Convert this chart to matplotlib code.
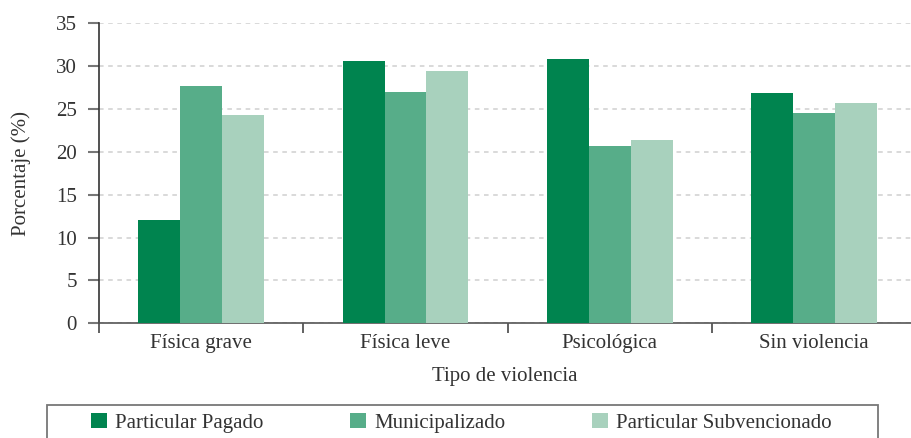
import numpy as np
from matplotlib import pyplot as plt
from matplotlib.patches import Patch, Rectangle

categories = ["Física grave", "Física leve", "Psicológica", "Sin violencia"]
series = ["Particular Pagado", "Municipalizado", "Particular Subvencionado"]
pagado = [12.0, 30.6, 30.8, 26.9]
municipal = [27.7, 27.0, 20.7, 24.5]
subvencionado = [24.3, 29.4, 21.4, 25.7]
yticks = [0, 5, 10, 15, 20, 25, 30, 35]

colors = ["#00844f", "#57ad89", "#a8d1bd"]
text_color = "#333333"

plt.rcParams["font.family"] = ["Liberation Serif", "DejaVu Serif"]
plt.rcParams["font.size"] = 15

W, H = 911, 438
fig = plt.figure(figsize=(W / 100, H / 100), dpi=100)
ax = fig.add_axes([99 / W, 114.7 / H, 812 / W, 300 / H])

x = np.arange(len(categories))
w = 0.205
for k, vals in enumerate([pagado, municipal, subvencionado]):
    ax.bar(x + (k - 1) * w, vals, width=w, color=colors[k], zorder=3)

ax.set_xlim(-0.5, 3.474)
ax.set_ylim(0, 35)
ax.set_yticks(yticks)
ax.set_yticklabels([str(t) for t in yticks], color=text_color)
ax.yaxis.grid(True, linestyle=(0, (3, 3)), color="#d0d0d0", linewidth=1.1, zorder=0)

ax.set_xticks(x)
ax.set_xticklabels(categories, color=text_color)
ax.set_xticks([-0.5, 0.5, 1.5, 2.5], minor=True)
ax.tick_params(axis="x", which="major", length=0, pad=8)
ax.tick_params(axis="x", which="minor", length=7.2, width=1.3, color="#555555")
ax.tick_params(axis="y", length=8, width=1.5, color="#777777", pad=8)

for s in ["top", "right"]:
    ax.spines[s].set_visible(False)
ax.spines["left"].set_color("#333333")
ax.spines["bottom"].set_color("#555555")
ax.spines["left"].set_linewidth(1.2)
ax.spines["bottom"].set_linewidth(1.2)

ax.set_xlabel("Tipo de violencia", color=text_color, labelpad=10)
ax.set_ylabel("Porcentaje (%)", color=text_color, labelpad=18)

# legend: entries spread across, frame drawn separately (cut by the bottom edge)
handles = [Patch(facecolor=c, edgecolor="none") for c in colors]
leg = fig.legend(
    handles,
    series,
    loc="upper left",
    bbox_to_anchor=(91 / W, (H - 413) / H - 0.1, (832 - 91) / W, 0.1),
    mode="expand",
    ncol=3,
    borderaxespad=0,
    borderpad=0,
    handlelength=0.75,
    handleheight=0.75,
    handletextpad=0.4,
    frameon=False,
)
for t in leg.get_texts():
    t.set_color(text_color)

fig.patches.append(
    Rectangle(
        (46.7 / W, -0.1),
        (877.7 - 46.7) / W,
        (H - 405) / H + 0.1,
        transform=fig.transFigure,
        fill=False,
        edgecolor="#777777",
        linewidth=1.3,
    )
)

plt.savefig("out.png", dpi=100)
